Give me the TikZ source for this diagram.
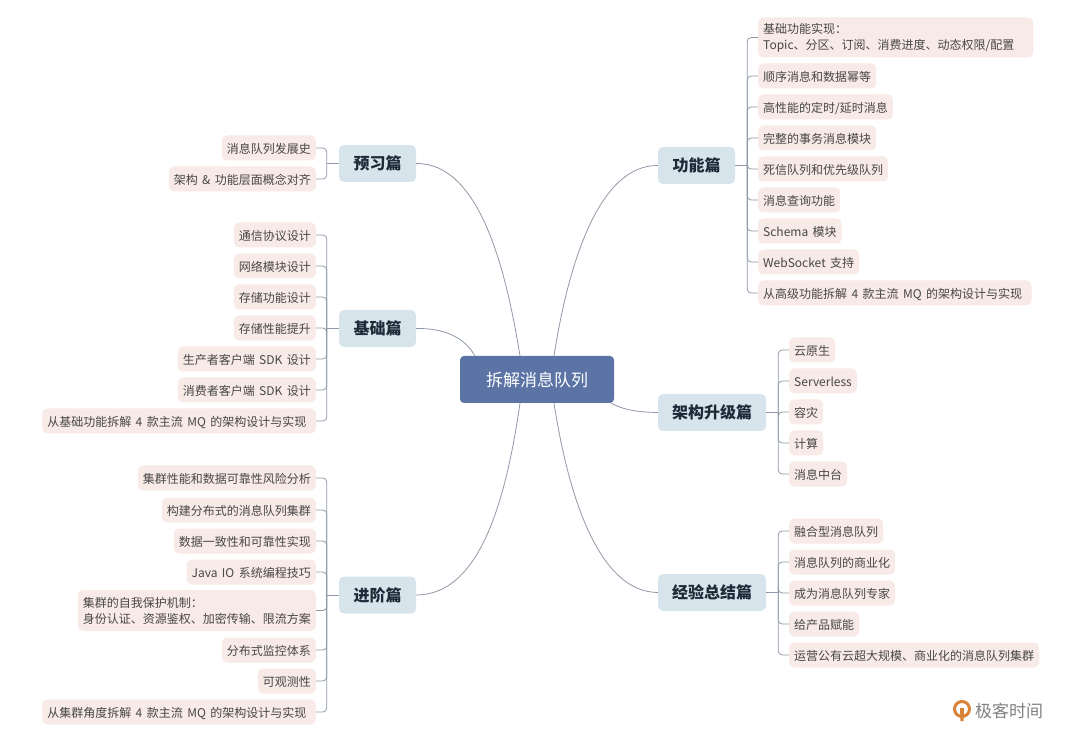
\documentclass[tikz,border=0pt]{standalone}
\usepackage{fontspec}
\setmainfont[WordSpace=1.65]{Noto Sans CJK SC}
\definecolor{hubblue}{HTML}{5B73A5}
\definecolor{topicblue}{HTML}{D8E4EC}
\definecolor{leafpink}{HTML}{F8EAE6}
\definecolor{wiregray}{HTML}{8E98A6}
\definecolor{inkdark}{HTML}{1E2A38}
\definecolor{inkleaf}{HTML}{474747}
\definecolor{logoorange}{HTML}{D98338}
\tikzset{
  hub/.style={fill=hubblue,rounded corners=4pt,minimum width=154pt,minimum height=47pt,text=white,font=\fontsize{17}{20}\selectfont},
  topic/.style={fill=topicblue,rounded corners=5pt,minimum height=37pt,text=inkdark,font=\fontsize{16}{19}\selectfont\bfseries},
  leafbox/.style={fill=leafpink,rounded corners=5pt,minimum height=25pt,inner xsep=5pt,inner ysep=0pt,align=left,text=inkleaf,font=\fontsize{12}{16}\selectfont},
  leaf/.style={leafbox,text height=12pt,text depth=1.5pt},
  limb/.style={wiregray,line width=0.8pt},
  twig/.style={wiregray,line width=0.8pt,rounded corners=4pt}
}

\begin{document}
\begin{tikzpicture}[x=1pt,y=-1pt]
  \useasboundingbox (0,0) rectangle (1080,743);
  % centre and the six topics
  \node[hub] (hub) at (537,379.5) {拆解消息队列};
  \node[topic,minimum width=77pt] (pre) at (377.5,163.5) {预习篇};
  \node[topic,minimum width=77pt] (base) at (377.5,328.5) {基础篇};
  \node[topic,minimum width=77pt] (adv) at (377.5,595) {进阶篇};
  \node[topic,minimum width=77pt] (func) at (696.5,165.5) {功能篇};
  \node[topic,minimum width=108pt] (arch) at (712,412.5) {架构升级篇};
  \node[topic,minimum width=108pt] (exp) at (712,592.5) {经验总结篇};
  % curved limbs
  \coordinate (hubnl) at ([xshift=-17pt]hub.north);
  \coordinate (hubnr) at ([xshift=17pt]hub.north);
  \coordinate (hubsl) at ([xshift=-17pt]hub.south);
  \coordinate (hubsr) at ([xshift=17pt]hub.south);
  \coordinate (hubtl) at ([xshift=15pt]hub.north west);
  \coordinate (hubbr) at ([xshift=-3pt]hub.south east);
  \draw[limb] (pre.east) .. controls (480,163) and (506,270) .. (hubnl);
  \draw[limb] (base.east) .. controls (445,328) and (465,338) .. (hubtl);
  \draw[limb] (adv.east) .. controls (480,595) and (506,500) .. (hubsl);
  \draw[limb] (func.west) .. controls (600,165) and (569,260) .. (hubnr);
  \draw[limb] (arch.west) .. controls (636,412) and (624,410) .. (hubbr);
  \draw[limb] (exp.west) .. controls (600,592) and (569,500) .. (hubsr);
  % stubs from topic to trunk
  \coordinate (pret) at ([xshift=-12pt]pre.west);
  \coordinate (baset) at ([xshift=-12pt]base.west);
  \coordinate (advt) at ([xshift=-12pt]adv.west);
  \coordinate (funct) at ([xshift=12pt]func.east);
  \coordinate (archt) at ([xshift=12pt]arch.east);
  \coordinate (expt) at ([xshift=12pt]exp.east);
  \draw[limb] (pre.west) -- (pret);
  \draw[limb] (base.west) -- (baset);
  \draw[limb] (adv.west) -- (advt);
  \draw[limb] (func.east) -- (funct);
  \draw[limb] (arch.east) -- (archt);
  \draw[limb] (exp.east) -- (expt);
  % left leaves
  \foreach \y/\t [count=\i] in {148/消息队列发展史,179/架构 \& 功能层面概念对齐} {
    \node[leaf,anchor=east] (pre\i) at (316,\y) {\t};
    \draw[twig] (pret) |- (pre\i.east);
  }
  \foreach \y/\t [count=\i] in {235/通信协议设计,266/网络模块设计,297/存储功能设计,328/存储性能提升,359/生产者客户端 SDK 设计,390/消费者客户端 SDK 设计,421/从基础功能拆解 4 款主流 MQ 的架构设计与实现~} {
    \node[leaf,anchor=east] (base\i) at (316,\y) {\t};
    \draw[twig] (baset) |- (base\i.east);
  }
  \node[leafbox,anchor=east,minimum height=41pt] (adv5) at (316,610.5) {集群的自我保护机制：\\身份认证、资源鉴权、加密传输、限流方案};
  \draw[twig] (advt) |- (adv5.east);
  \foreach \i/\y/\t in {1/478/集群性能和数据可靠性风险分析,2/510/构建分布式的消息队列集群,3/541/数据一致性和可靠性实现,4/572/Java IO 系统编程技巧,6/650/分布式监控体系,7/681/可观测性,8/712/从集群角度拆解 4 款主流 MQ 的架构设计与实现~} {
    \node[leaf,anchor=east] (adv\i) at (316,\y) {\t};
    \draw[twig] (advt) |- (adv\i.east);
  }
  % right leaves
  \node[leafbox,anchor=west,minimum height=40pt] (func1) at (758,37.5) {基础功能实现：\\Topic、分区、订阅、消费进度、动态权限/配置\hspace*{14pt}};
  \draw[twig] (funct) |- (func1.west);
  \foreach \y/\t [count=\i from 2] in {76/顺序消息和数据幂等,107/{高性能的定时/延时消息},138/完整的事务消息模块,169/死信队列和优先级队列,200/消息查询功能,231/Schema 模块,262/WebSocket 支持,293/从高级功能拆解 4 款主流 MQ 的架构设计与实现~} {
    \node[leaf,anchor=west] (func\i) at (758,\y) {\t};
    \draw[twig] (funct) |- (func\i.west);
  }
  \foreach \y/\t [count=\i] in {350/云原生,381/Serverless,412/容灾,443/计算,474/消息中台} {
    \node[leaf,anchor=west] (arch\i) at (789,\y) {\t};
    \draw[twig] (archt) |- (arch\i.west);
  }
  \foreach \y/\t [count=\i] in {531/融合型消息队列,562/消息队列的商业化,593/成为消息队列专家,624/给产品赋能,655/运营公有云超大规模、商业化的消息队列集群} {
    \node[leaf,anchor=west] (exp\i) at (789,\y) {\t};
    \draw[twig] (expt) |- (exp\i.west);
  }
  % logo
  \draw[logoorange,line width=3pt] (962,709) circle (7.5pt);
  \fill[logoorange] (960,708) -- (964,708) -- (963.5,721) -- (960.5,721) -- cycle;
  \node[anchor=west,inner sep=0pt,text=gray,font=\fontsize{17}{20}\selectfont] (brand) at (975,711) {极客时间};
\end{tikzpicture}
\end{document}
